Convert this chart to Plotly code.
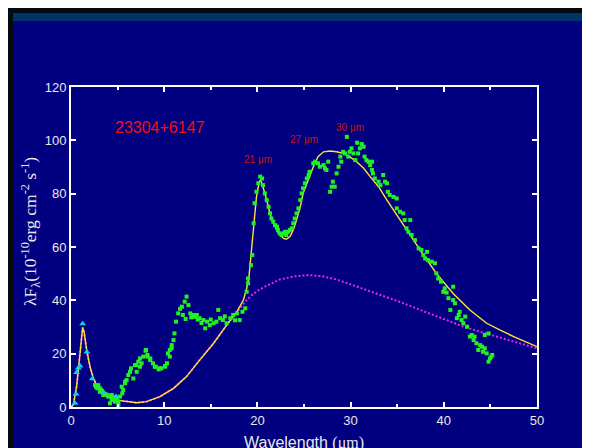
import plotly.graph_objects as go

# ---- data ----
green_x = [2.58, 2.7, 2.83, 2.93, 3.1, 3.1, 3.2, 3.3, 3.47, 3.47, 3.72, 3.9, 4.0, 4.0, 4.18, 4.37, 4.37, 4.5,
           4.65, 4.72, 4.9, 5.08, 5.08, 5.26, 5.44, 5.5, 5.6, 5.8, 5.8, 5.97, 6.15, 6.33, 6.44, 6.69, 6.87,
           6.97, 7.05, 7.22, 7.4, 7.4, 7.58, 7.76, 8.0, 8.05, 8.2, 8.2, 8.5, 8.5, 8.8, 9.0, 9.1, 9.4, 9.55,
           9.7, 10.1, 10.1, 10.3, 10.4, 10.6, 10.6, 10.8, 10.8, 11.0, 11.1, 11.27, 11.5, 11.7, 11.9, 12.0,
           12.2, 12.3, 12.4, 12.6, 12.8, 12.9, 13.1, 13.3, 13.5, 13.6, 13.8, 14.0, 14.2, 14.4, 14.6, 14.9,
           15.0, 15.3, 15.6, 15.8, 16.0, 16.3, 16.5, 16.7, 17.1, 17.4, 17.6, 17.8, 18.1, 18.4, 18.7, 18.85,
           19.0, 19.0, 19.3, 19.45, 19.6, 19.7, 19.9, 20.1, 20.3, 20.5, 20.6, 20.8, 21.0, 21.2, 21.35, 21.5,
           21.7, 21.9, 22.1, 22.2, 22.4, 22.6, 22.8, 22.96, 23.1, 23.3, 23.5, 23.7, 23.85, 24.0, 24.2, 24.4,
           24.6, 24.75, 24.9, 25.1, 25.3, 25.5, 25.6, 26.0, 26.2, 26.5, 26.7, 27.1, 27.25, 27.4, 27.6, 27.8,
           27.97, 28.1, 28.3, 28.5, 28.7, 28.9, 29.0, 29.2, 29.4, 29.6, 29.75, 29.9, 30.1, 30.3, 30.5, 30.7,
           30.8, 31.0, 31.2, 31.4, 31.5, 31.7, 31.9, 32.1, 32.3, 32.3, 32.4, 32.6, 33.0, 33.2, 33.5, 33.7,
           33.9, 34.0, 34.2, 34.6, 34.95, 34.95, 35.3, 35.65, 35.8, 36.0, 36.2, 36.4, 36.55, 36.9, 37.3,
           37.6, 37.8, 38.0, 38.2, 38.3, 38.7, 39.05, 39.2, 39.4, 39.7, 39.95, 40.1, 40.3, 40.5, 40.7, 41.0,
           41.0, 41.2, 41.4, 41.6, 41.7, 41.9, 42.1, 42.3, 42.5, 42.8, 43.0, 43.2, 43.3, 43.5, 43.7, 43.9,
           44.1, 44.2, 44.4, 44.4, 44.6, 44.8, 44.8, 44.96, 45.1, 45.2]
green_y = [8.2, 7.5, 7.0, 8.2, 7.0, 5.7, 6.5, 6.1, 5.4, 4.5, 4.8, 4.5, 4.1, 3.9, 1.4, 4.5, 2.6, 3.2,
           3.6, 2.0, 2.9, 2.0, 0.75, 3.9, 7.6, 5.1, 6.4, 9.5, 8.9, 10.1, 12.0, 13.2, 14.5, 10.7, 15.7,
           15.7, 13.2, 17.0, 18.2, 15.1, 16.4, 18.9, 21.1, 21.4, 19.5, 18.9, 18.2, 17.6, 16.4, 15.1, 15.1, 14.1, 14.5,
           14.5, 15.4, 15.1, 16.4, 20.1, 21.4, 18.9, 23.2, 22.0, 25.1, 27.6, 32.0, 35.1, 36.8, 37.6, 34.5,
           39.5, 33.0, 41.4, 38.2, 35.1, 33.6, 34.5, 33.8, 34.5, 32.8, 33.3, 31.5, 32.6, 29.5, 32.0, 30.7,
           32.8, 31.4, 32.0, 36.4, 33.3, 32.6, 34.0, 31.4, 33.3, 34.5, 32.5, 35.1, 32.6, 35.7, 37.0, 43.2,
           46.4, 48.2, 53.2, 57.0, 68.9, 76.4, 80.7, 83.9, 86.4, 85.7, 83.2, 80.1, 77.6, 75.1, 72.6, 70.7,
           69.5, 68.2, 67.6, 66.4, 65.1, 64.5, 65.1, 65.7, 64.5, 65.7, 66.4, 67.0, 68.9, 70.7, 72.6, 74.5,
           77.6, 80.1, 82.0, 83.9, 85.7, 87.0, 88.2, 91.4, 92.0, 91.4, 90.1, 90.7, 89.5, 88.9, 92.0, 80.7,
           82.6, 84.5, 82.6, 87.6, 90.1, 93.9, 92.0, 95.7, 95.1, 101.3, 93.9, 95.7, 97.0, 95.1, 92.6, 99.1,
           95.1, 97.0, 98.6, 97.6, 93.9, 92.6, 92.0, 90.7, 88.9, 92.0, 87.6, 85.7, 84.5, 83.2, 87.0, 84.5,
           83.9, 80.7, 79.5, 78.8, 78.2, 74.5, 73.2, 72.6, 70.1, 67.0, 65.7, 70.1, 64.5, 62.6, 59.5,
           58.9, 57.0, 55.7, 58.2, 55.1, 54.5, 53.9, 50.1, 48.2, 47.0, 43.2, 44.5, 42.9, 40.8, 36.4, 45.1,
           40.1, 38.9, 33.3, 34.5, 35.7, 32.6, 31.4, 33.9, 30.1, 26.4, 27.0, 25.1, 26.4, 23.9, 21.4, 23.2,
           22.6, 20.7, 22.0, 27.0, 20.1, 17.0, 27.6, 18.2, 18.9, 19.5]

cyan_x = [0.43, 0.54, 0.6, 0.79, 0.97, 1.25, 1.7, 2.29, 3.47, 4.83]
cyan_y = [1.4, 4.9, 12.9, 14.6, 15.4, 31.2, 20.6, 10.6, 5.4, 3.9]

model_x = [0, 0.25, 0.6, 0.9, 1.15, 1.25, 1.4, 1.68, 2.04, 2.4, 2.93, 3.83, 4.9, 5.97, 7.05, 8.1, 9.55,
           11, 12.4, 13.8, 15.3, 16.7, 17.8, 18.5, 18.85, 19.1, 19.4, 19.6, 19.9, 20.2, 20.35, 20.6, 21.0,
           21.35, 21.7, 22.25, 22.8, 23.1, 23.5, 23.85, 24.2, 24.6, 24.9, 25.3, 25.6, 26.0, 26.5, 27.1,
           27.8, 28.5, 29.2, 29.9, 30.65, 31.4, 32.1, 33.0, 33.9, 35.65, 37.45, 39.2, 41.0, 42.8, 44.6,
           46.0, 47.5, 50]
model_y = [0, 0.75, 7.6, 18.9, 28.9, 29.8, 28.2, 21.4, 15.1, 10.7, 7.0, 4.1, 2.6, 2.0, 1.6, 2.0, 3.9,
           7.0, 11.4, 17.6, 23.9, 30.7, 35.7, 40.1, 44.5, 49.0, 58.9, 67.6, 78.8, 84.5, 85.1, 82.6, 77.6,
           72.6, 68.9, 65.1, 63.2, 62.9, 63.9, 66.4, 70.1, 75.1, 80.1, 83.9, 86.8, 90.1, 93.9, 95.7,
           96.0, 95.7, 95.1, 93.9, 92.0, 89.5, 86.4, 82.6, 77.6, 68.2, 58.9, 50.1, 42.6, 36.4, 31.4,
           28.9, 26.4, 22.6]

cont_x = [0, 0.25, 0.6, 0.9, 1.15, 1.25, 1.4, 1.68, 2.04, 2.4, 2.93, 3.83, 4.9, 5.97, 7.05, 8.1, 9.55,
          11, 12.4, 13.8, 15.3, 16.7, 17.8, 18.7, 19.4, 20, 21, 22.4, 24, 25.5, 27, 28.5, 30, 31.5, 33.2,
          35, 36.7, 38.5, 40.3, 42, 43.9, 45.7, 47.5, 49, 50]
cont_y = [0, 0.75, 7.6, 18.9, 28.9, 29.8, 28.2, 21.4, 15.1, 10.7, 7.0, 4.1, 2.6, 2.0, 1.6, 2.0, 3.9,
          7.0, 11.4, 17.6, 23.9, 30.7, 35.7, 39.5, 42.0, 43.5, 45.5, 47.8, 49.0, 49.5, 49.0, 47.8, 46.0,
          44.0, 42.0, 39.8, 37.6, 35.0, 32.6, 30.3, 28.2, 26.3, 24.5, 23.0, 22.0]

x_ticks = [0, 10, 20, 30, 40, 50]
y_ticks = [0, 20, 40, 60, 80, 100, 120]

# ---- figure ----
# The page body has an 8px margin; window coords below are converted to figure coords.
OFF = 8
W, H = 590, 448
L, R, T, B = 71 - OFF, 537 - OFF, 87 - OFF, 407 - OFF


def px(p):
    return (p - OFF - L) / (R - L)


def py(p):
    return (B - (p - OFF)) / (B - T)


fig = go.Figure()
fig.add_trace(go.Scatter(x=cont_x, y=cont_y, mode="lines",
                         line=dict(color="#F020F0", width=2, dash="2px,2px"), showlegend=False))
fig.add_trace(go.Scatter(x=model_x, y=model_y, mode="lines",
                         line=dict(color="#FFE633", width=1.4), showlegend=False))
fig.add_trace(go.Scatter(x=green_x, y=green_y, mode="markers",
                         marker=dict(color="#22F022", size=4, symbol="square", line=dict(width=0)),
                         showlegend=False))
fig.add_trace(go.Scatter(x=cyan_x, y=cyan_y, mode="markers",
                         marker=dict(color="#10D0F8", size=6, symbol="triangle-up", line=dict(width=0)),
                         showlegend=False))

axis_common = dict(showline=True, linecolor="white", linewidth=2, mirror="ticks",
                   ticks="inside", ticklen=5, tickwidth=2, tickcolor="white",
                   showgrid=False, zeroline=False,
                   tickfont=dict(family="Arial, Liberation Sans", size=13, color="#E8E8E8"))

fig.update_xaxes(range=[0, 50], tickvals=x_ticks, **axis_common,
                 minor=dict(dtick=5, ticks="inside", ticklen=3, tickwidth=1.5, tickcolor="white",
                            showgrid=False))
fig.update_yaxes(range=[0, 120], tickvals=y_ticks, **axis_common)

shapes = [
    dict(type="rect", xref="paper", yref="paper", x0=px(8), x1=px(W + 10), y0=py(13), y1=py(8),
         fillcolor="#050a10", line=dict(width=0), layer="below"),
    dict(type="rect", xref="paper", yref="paper", x0=px(8), x1=px(13), y0=py(H + 10), y1=py(8),
         fillcolor="#050a10", line=dict(width=0), layer="below"),
    dict(type="rect", xref="paper", yref="paper", x0=px(13), x1=px(W + 10), y0=py(21), y1=py(13),
         fillcolor="#003366", line=dict(width=0), layer="below"),
]

annotations = [
    dict(text="λF<sub>λ</sub>(10<sup>-10</sup>erg cm<sup>-2</sup> s<sup>-1</sup>)",
         xref="paper", yref="paper", x=px(30), y=py(232), textangle=-90, showarrow=False,
         xanchor="center", yanchor="middle",
         font=dict(family="Times New Roman, Liberation Serif", size=17.5, color="#E8E8E8")),
    dict(text="Wavelength <span style='font-family:Liberation Serif'>(μm)</span>",
         xref="paper", yref="paper", x=px(304), y=py(443),
         showarrow=False, xanchor="center", yanchor="middle",
         font=dict(family="Arial, Liberation Sans", size=16, color="#E8E8E8")),
    dict(text="23304+6147", x=4.5, y=105, xref="x", yref="y", showarrow=False,
         xanchor="left", yanchor="middle",
         font=dict(family="Arial, Liberation Sans", size=16, color="#F01010")),
    dict(text="21 μm", x=20.05, y=93, xref="x", yref="y", showarrow=False,
         font=dict(family="Arial, Liberation Sans", size=10, color="#D01010")),
    dict(text="27 μm", x=25.0, y=100.3, xref="x", yref="y", showarrow=False,
         font=dict(family="Arial, Liberation Sans", size=10, color="#D01010")),
    dict(text="30 μm", x=29.9, y=105, xref="x", yref="y", showarrow=False,
         font=dict(family="Arial, Liberation Sans", size=10, color="#D01010")),
]

fig.update_layout(width=W, height=H,
                  margin=dict(l=L, r=W - R, t=T, b=H - B, autoexpand=False),
                  paper_bgcolor="#000080", plot_bgcolor="#000080",
                  shapes=shapes, annotations=annotations, showlegend=False)

fig.write_html("out.html")
